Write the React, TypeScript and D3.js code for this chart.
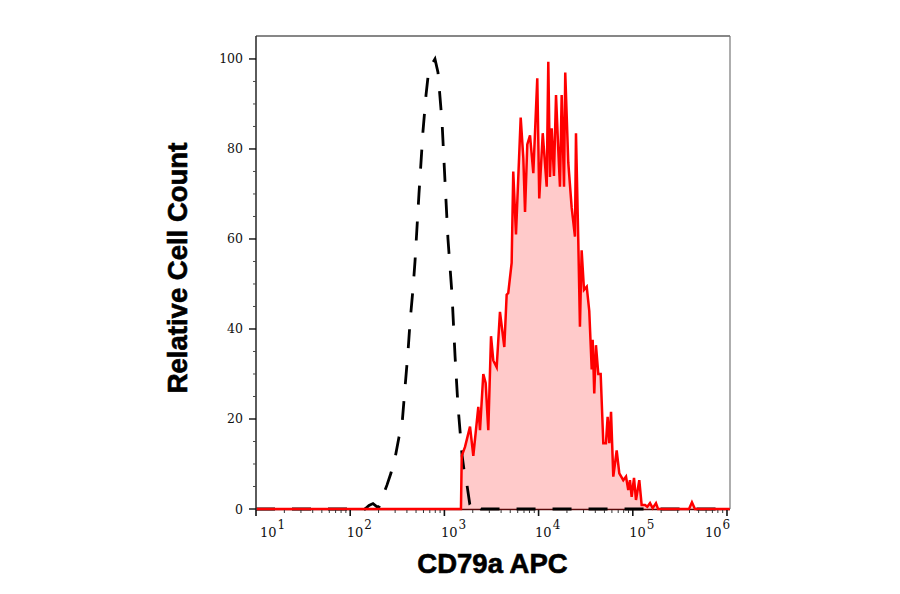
import React, {Component} from 'react';
import * as d3 from "d3"

// isotype control (dashed): log10 intensity / relative count
const isoLog = [1.0, 2.06, 2.157, 2.2, 2.242, 2.285, 2.306, 2.348, 2.39, 2.433, 2.476, 2.518, 2.55, 2.582, 2.614, 2.635, 2.667, 2.688, 2.73, 2.773, 2.805, 2.826, 2.858, 2.9, 2.932, 2.975, 3.006, 3.038, 3.081, 3.113, 3.144, 3.187, 3.219, 3.24, 3.27, 3.29, 3.325, 3.357, 3.389, 6.03]
const isoCount = [0, 0, 0, 0.8, 1.2, 0.5, 0.5, 3, 5.3, 8, 11.3, 16, 18.7, 27, 35, 41.5, 49, 55, 70, 84, 92, 96, 98.5, 100, 97, 86, 73, 60, 47.6, 34, 23, 12, 7, 5.3, 1, 0.5, 1.5, 1, 0, 0]

// CD79a APC stained (red filled)
const cd79Log = [1.0, 3.176, 3.184, 3.219, 3.272, 3.307, 3.36, 3.378, 3.413, 3.438, 3.466, 3.495, 3.519, 3.555, 3.59, 3.636, 3.661, 3.678, 3.714, 3.731, 3.76, 3.81, 3.838, 3.856, 3.88, 3.909, 3.944, 3.986, 4.007, 4.044, 4.086, 4.103, 4.121, 4.139, 4.163, 4.185, 4.209, 4.227, 4.245, 4.27, 4.283, 4.315, 4.351, 4.386, 4.397, 4.421, 4.439, 4.457, 4.482, 4.511, 4.538, 4.564, 4.574, 4.591, 4.609, 4.634, 4.659, 4.687, 4.715, 4.733, 4.751, 4.769, 4.793, 4.829, 4.857, 4.899, 4.928, 4.952, 4.97, 4.988, 5.013, 5.034, 5.069, 5.094, 5.13, 5.154, 5.183, 5.211, 5.246, 5.268, 5.597, 5.628, 5.66, 6.03]
const cd79Count = [0, 0, 11.8, 13.8, 18.3, 11.8, 22.7, 17.5, 30, 28, 17.5, 38.4, 33, 31.5, 43.8, 36, 47.6, 48, 54.7, 75, 61, 87, 78, 66, 81, 83, 74.6, 95.7, 69, 83.5, 71.6, 99.4, 73.8, 84.6, 74, 92, 79.8, 71.6, 92, 71.6, 97, 77, 67, 60.5, 83.5, 60, 40.5, 57.5, 48.7, 49.4, 44, 31, 37.6, 25.7, 36.4, 30, 30, 14.6, 14.6, 20.5, 14.6, 21.6, 7.2, 13, 7.9, 6.4, 7.2, 4.2, 6.4, 2.7, 6.9, 2, 6.4, 0.9, 0.9, 0.5, 1.3, 0.2, 1.3, 0, 0, 1.5, 0, 0]

const yTicks = [0, 20, 40, 60, 80, 100]
const xDecades = [1, 2, 3, 4, 5, 6]

class App extends Component {
    renderChart(){
      const el = document.getElementById("chart") as HTMLElement
      el.innerHTML = ""
      const width = 900
      const height = 594

      const svg = d3.select(el)
                    .append("svg")
                    .attr("width", width)
                    .attr("height", height)
                    .style("display", "block")

      const x = d3.scaleLog().domain([10, Math.pow(10, 6.032)]).range([256, 730])
      const y = d3.scaleLinear().domain([0, 105.1]).range([509, 36])

      const iso = isoLog.map((l, i) => ({v: Math.pow(10, l), c: isoCount[i]}))
      const cd = cd79Log.map((l, i) => ({v: Math.pow(10, l), c: cd79Count[i]}))

      // frame
      svg.append("line").attr("x1", 256).attr("x2", 730).attr("y1", 36).attr("y2", 36)
          .attr("stroke", "#111").attr("stroke-width", 1.2)
      svg.append("line").attr("x1", 730).attr("x2", 730).attr("y1", 36).attr("y2", 509)
          .attr("stroke", "#777").attr("stroke-width", 1.2)

      const area = d3.area<any>()
          .x(d => x(d.v))
          .y0(y(0))
          .y1(d => y(d.c))
      const line = d3.line<any>()
          .x(d => x(d.v))
          .y(d => y(d.c))

      svg.append("path").datum(cd).attr("d", area).attr("fill", "#ffcaca")

      // bottom axis line
      svg.append("line").attr("x1", 256).attr("x2", 730).attr("y1", 509.5).attr("y2", 509.5)
          .attr("stroke", "#5a0a0a").attr("stroke-width", 1.6)

      svg.append("path").datum(iso).attr("d", line)
          .attr("fill", "none").attr("stroke", "#000").attr("stroke-width", 2.8)
          .attr("stroke-dasharray", "19,17")

      svg.append("path").datum(cd).attr("d", line)
          .attr("fill", "none").attr("stroke", "#ff0000").attr("stroke-width", 2.5)
          .attr("stroke-linejoin", "miter")

      // left axis
      svg.append("line").attr("x1", 256).attr("x2", 256).attr("y1", 36).attr("y2", 510)
          .attr("stroke", "#333").attr("stroke-width", 1.6)

      const yMinor = d3.range(0, 101, 5).filter(v => v % 20 !== 0)
      svg.selectAll(".ymin").data(yMinor).join("line")
          .attr("x1", 253).attr("x2", 256)
          .attr("y1", d => y(d)).attr("y2", d => y(d))
          .attr("stroke", "#444").attr("stroke-width", 1)
      svg.selectAll(".ymaj").data(yTicks).join("line")
          .attr("x1", 249).attr("x2", 256)
          .attr("y1", d => y(d)).attr("y2", d => y(d))
          .attr("stroke", "#111").attr("stroke-width", 1.4)
      svg.selectAll(".ylab").data(yTicks).join("text")
          .attr("x", 243)
          .attr("y", d => y(d))
          .attr("text-anchor", "end")
          .attr("dominant-baseline", "central")
          .attr("font-family", "DejaVu Serif")
          .attr("font-size", 12.5)
          .attr("fill", "#111")
          .text(d => d)

      // x ticks
      const xMinor: number[] = []
      for (let dec = 1; dec < 6; dec++) {
        for (let m = 2; m < 10; m++) xMinor.push(m * Math.pow(10, dec))
      }
      svg.selectAll(".xmin").data(xMinor).join("line")
          .attr("x1", d => x(d)).attr("x2", d => x(d))
          .attr("y1", 510).attr("y2", 513)
          .attr("stroke", "#333").attr("stroke-width", 1)
      svg.selectAll(".xmaj").data(xDecades).join("line")
          .attr("x1", d => x(Math.pow(10, d))).attr("x2", d => x(Math.pow(10, d)))
          .attr("y1", 510).attr("y2", 516)
          .attr("stroke", "#111").attr("stroke-width", 1.6)

      const lab = svg.selectAll(".xlab").data(xDecades).join("text")
          .attr("x", d => Math.min(705, Math.max(260, x(Math.pow(10, d)) - 3.5)))
          .attr("y", 537)
          .attr("font-family", "DejaVu Serif")
          .attr("font-size", 13)
          .attr("fill", "#111")
      lab.append("tspan").text("10")
      lab.append("tspan").attr("dy", -8).attr("dx", 1).attr("font-size", 12).text(d => d)

      // titles
      svg.append("text")
          .attr("transform", "translate(177,268) rotate(-90)")
          .attr("text-anchor", "middle")
          .attr("dominant-baseline", "central")
          .attr("font-family", "Liberation Sans")
          .attr("font-weight", "bold")
          .attr("font-size", 27.5)
          .attr("fill", "#000")
          .attr("stroke", "#000")
          .attr("stroke-width", 0.6)
          .text("Relative Cell Count")
      svg.append("text")
          .attr("x", 492.5)
          .attr("y", 573)
          .attr("text-anchor", "middle")
          .attr("font-family", "Liberation Sans")
          .attr("font-weight", "bold")
          .attr("font-size", 27.5)
          .attr("fill", "#000")
          .attr("stroke", "#000")
          .attr("stroke-width", 0.6)
          .text("CD79a APC")
    }

    componentDidMount(){
      this.renderChart()
    }

    public render() : JSX.Element {
        return (
            <div
              id='chart'
              style={{position: "absolute", left: 0, top: 0, width: 900, height: 594, background: "#fff"}}
            >
            </div>
       )
    }
}
export default App;
